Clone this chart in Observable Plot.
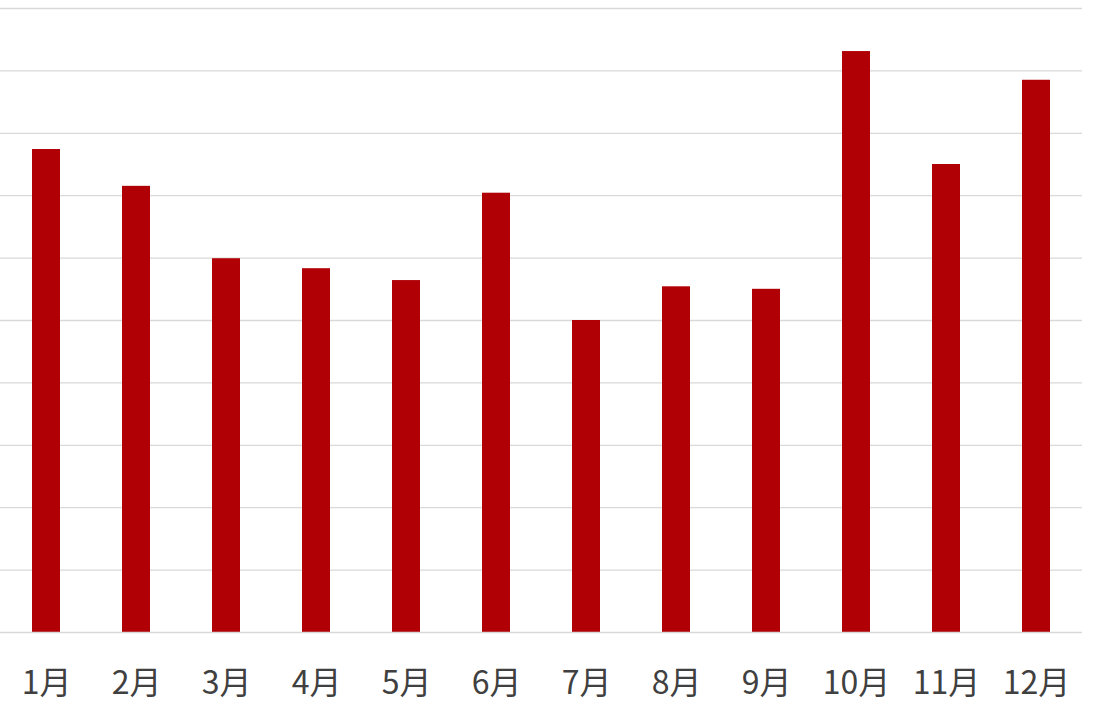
<!DOCTYPE html>
<html><head><meta charset="utf-8">
<script src="https://cdn.jsdelivr.net/npm/d3@7"></script>
<script src="https://cdn.jsdelivr.net/npm/@observablehq/plot@0.6"></script>
<style>body{margin:0;background:#fff;}</style>
</head><body><div id="chart"></div>
<script>
const months = ["1月","2月","3月","4月","5月","6月","7月","8月","9月","10月","11月","12月"];
const values = [7.74,7.15,5.99,5.83,5.64,7.04,5.0,5.54,5.50,9.31,7.50,8.85];
const gridTicks = [0,1,2,3,4,5,6,7,8,9,10];
const data = months.map((m,i)=>({month:m, value:values[i]}));
const chart = Plot.plot({
  width:1098, height:720,
  marginLeft:0, marginRight:16, marginTop:8, marginBottom:88,
  style:{background:"#fff", fontFamily:"'Noto Sans CJK JP', sans-serif"},
  x:{domain:months, padding:0.69, paddingOuter:0.345, label:null},
  y:{domain:[0,10], axis:null},
  marks:[
    Plot.ruleY(gridTicks.slice(1), {stroke:"#d9d9d9", strokeWidth:1.3}),
    Plot.barY(data, {x:"month", y:"value", fill:"#b00006"}),
    Plot.ruleY([0], {stroke:"#d9d9d9", strokeWidth:1.3}),
    Plot.axisX({tickSize:0, tickPadding:39, fontSize:32, fill:"#404040", label:null})
  ]
});
document.getElementById("chart").append(chart);
</script></body></html>
